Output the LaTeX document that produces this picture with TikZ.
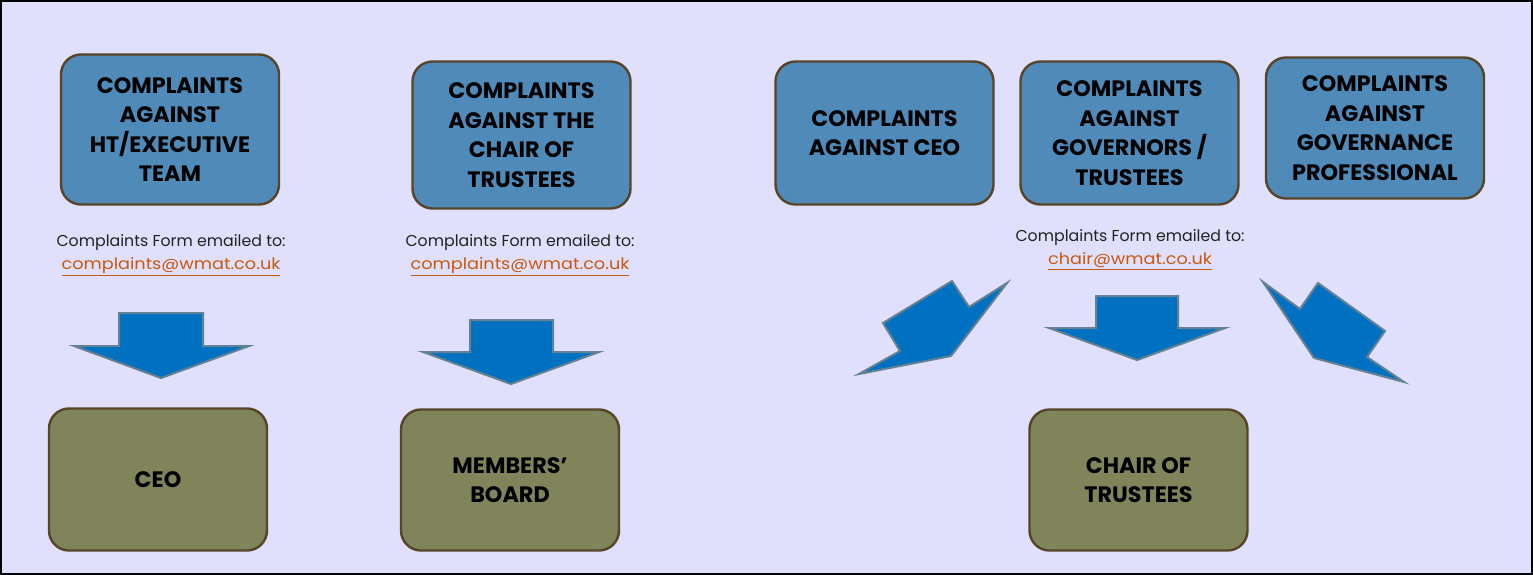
\documentclass[tikz,border=0pt]{standalone}
\usepackage{fontspec}
\setmainfont{Poppins}
\newfontfamily\linkfont[FakeStretch=1.12]{Poppins}
\definecolor{pagebg}{RGB}{224,224,253}
\definecolor{boxblue}{RGB}{80,138,185}
\definecolor{boxgreen}{RGB}{127,132,90}
\definecolor{boxedge}{RGB}{88,68,40}
\definecolor{arrowfill}{RGB}{0,112,192}
\definecolor{arrowedge}{RGB}{100,128,148}
\definecolor{linkcol}{RGB}{197,90,17}
\definecolor{leadcol}{RGB}{34,34,34}
\tikzset{
  card/.style={draw=boxedge, line width=2.4pt, rounded corners=20pt,
    minimum width=218pt, minimum height=146pt, align=center, inner sep=0pt,
    font=\bfseries\fontsize{22.3}{29.5}\selectfont, text=black},
  topcard/.style={card, fill=boxblue},
  endcard/.style={card, fill=boxgreen},
  mailnote/.style={align=center, inner sep=0pt, text=leadcol,
    font=\fontsize{15.8}{23}\selectfont},
  blockarrow/.style={fill=arrowfill, draw=arrowedge, line width=2pt, line join=miter}
}
\newcommand{\mailto}[1]{{\linkfont\textcolor{linkcol}{\underline{#1}}}}
\begin{document}
\begin{tikzpicture}[x=1pt,y=-1pt]
\useasboundingbox (0,0) rectangle (1533,575);
\fill[pagebg] (0,0) rectangle (1533,575);
\draw[black, line width=2pt] (1,1) rectangle (1532,574);

% complaint categories
\node[topcard, minimum height=150pt] (ht)   at (170,129.5) {COMPLAINTS\\AGAINST\\HT/EXECUTIVE\\TEAM};
\node[topcard, minimum height=147pt] (chr)  at (521.5,135) {COMPLAINTS\\AGAINST THE\\CHAIR OF\\TRUSTEES};
\node[topcard, minimum height=143pt] (ceoc) at (884.5,133) {COMPLAINTS\\AGAINST CEO};
\node[topcard, minimum height=143pt] (gov)  at (1129.5,133) {COMPLAINTS\\AGAINST\\GOVERNORS /\\TRUSTEES};
\node[topcard, minimum height=141pt] (gp)   at (1375,128) {COMPLAINTS\\AGAINST\\GOVERNANCE\\PROFESSIONAL};

% who handles them
\node[endcard, minimum height=142pt] (ceo)  at (158,479.5) {CEO};
\node[endcard, minimum height=141pt] (mem)  at (510,480) {MEMBERS’\\BOARD};
\node[endcard, minimum height=141pt] (cot)  at (1138.5,480) {CHAIR OF\\TRUSTEES};

% where to send the form
\node[mailnote] (m1) at (171,255.5) {Complaints Form emailed to:\\\mailto{complaints@wmat.co.uk}};
\node[mailnote] (m2) at (520,255.5) {Complaints Form emailed to:\\\mailto{complaints@wmat.co.uk}};
\node[mailnote] (m3) at (1130,250) {Complaints Form emailed to:\\\mailto{chair@wmat.co.uk}};

% block arrows
\draw[blockarrow] (119,313) -- (203,313) -- (203,346) -- (249,346) -- (161,378)
  -- (74,346) -- (119,346) -- cycle;
\draw[blockarrow] (470,320) -- (553,320) -- (553,352) -- (599,352) -- (511,384)
  -- (423,352) -- (470,352) -- cycle;
\draw[blockarrow] (1096,296) -- (1178,296) -- (1178,328) -- (1225,328) -- (1137,360)
  -- (1049,328) -- (1096,328) -- cycle;
\draw[blockarrow] (859,374) -- (900,351) -- (883,323) -- (952,281) -- (969,307)
  -- (1007,283) -- (951,356) -- cycle;
\draw[blockarrow] (1263,282) -- (1300,309) -- (1318,283) -- (1385,331) -- (1367,357)
  -- (1404,382) -- (1314,358) -- cycle;
\end{tikzpicture}
\end{document}
